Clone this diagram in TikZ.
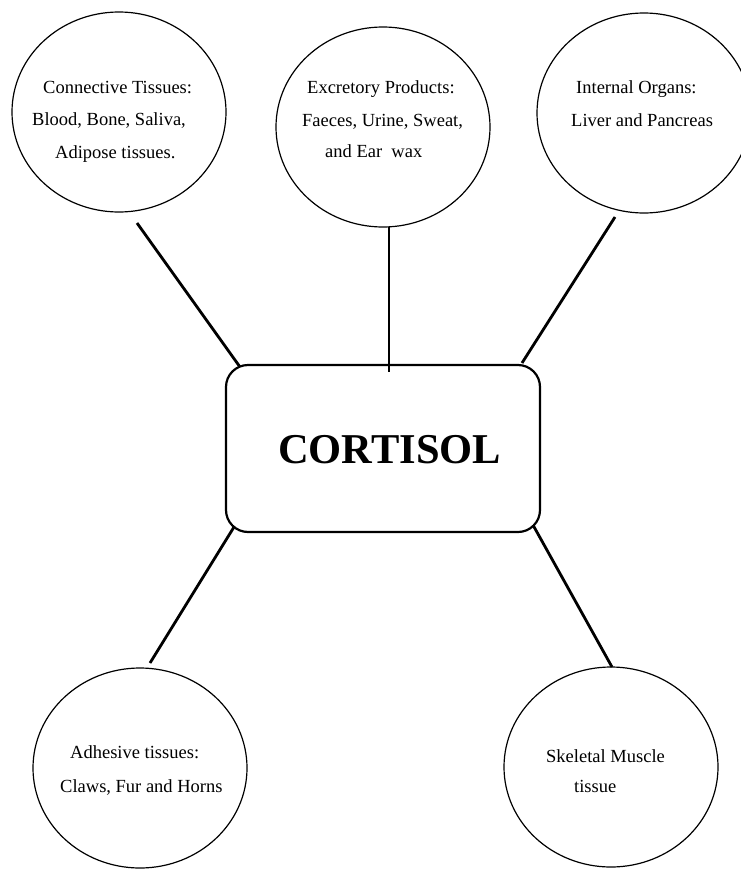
\documentclass[tikz,border=0pt]{standalone}
\usepackage{fontspec}
\setmainfont{Liberation Serif}
\usetikzlibrary{shapes.geometric}
\begin{document}
\begin{tikzpicture}[x=1pt,y=-1pt,
  bubble/.style={ellipse, draw=black, line width=1.2pt, minimum width=214pt, minimum height=200pt, inner sep=0pt},
  hub/.style={rectangle, rounded corners=22pt, draw=black, line width=2.2pt, minimum width=314pt, minimum height=167pt, inner sep=0pt},
  lbl/.style={anchor=base west, inner sep=0pt, font=\fontsize{18.5}{22}\selectfont},
  big/.style={anchor=base west, inner sep=0pt, font=\fontsize{42.5}{48}\selectfont\bfseries},
  link/.style={draw=black, line width=2.8pt}]
\useasboundingbox (0,0) rectangle (741,870);
% bubbles
\node[bubble] (conn) at (119,112) {};
\node[bubble] (excr) at (383,127) {};
\node[bubble] (orgs) at (644,113) {};
\node[bubble] (adhe) at (140,768) {};
\node[bubble] (skel) at (611,767) {};
% hub
\node[hub] (hub) at (383,448.5) {};
\node[big] (hubtxt) at (278,463) {CORTISOL};
% texts
\node[lbl] (t1a) at (43,93) {Connective Tissues:};
\node[lbl] (t1b) at (32,125.5) {Blood, Bone, Saliva,};
\node[lbl] (t1c) at (55,158) {Adipose tissues.};
\node[lbl] (t2a) at (307,93) {Excretory Products:};
\node[lbl] (t2b) at (302,126) {Faeces, Urine, Sweat,};
\node[lbl] (t2c) at (325,157) {and Ear\ \ wax};
\node[lbl] (t3a) at (576,93) {Internal Organs:};
\node[lbl] (t3b) at (571,126) {Liver and Pancreas};
\node[lbl] (t4a) at (70,758.5) {Adhesive tissues:};
\node[lbl] (t4b) at (60,792) {Claws, Fur and Horns};
\node[lbl] (t5a) at (546,762) {Skeletal Muscle};
\node[lbl] (t5b) at (574,792) {tissue};
% connector ends
\coordinate (c1a) at (137,223); \coordinate (c1b) at (240,367);
\coordinate (c2a) at (389,227); \coordinate (c2b) at (389,372);
\coordinate (c3a) at (615,217); \coordinate (c3b) at (522,363);
\coordinate (c4a) at (234,527); \coordinate (c4b) at (150,663);
\coordinate (c5a) at (533,525); \coordinate (c5b) at (612,667);
\draw[link] (c1a) -- (c1b);
\draw[link] (c2a) -- (c2b);
\draw[link] (c3a) -- (c3b);
\draw[link] (c4a) -- (c4b);
\draw[link] (c5a) -- (c5b);
\end{tikzpicture}
\end{document}
